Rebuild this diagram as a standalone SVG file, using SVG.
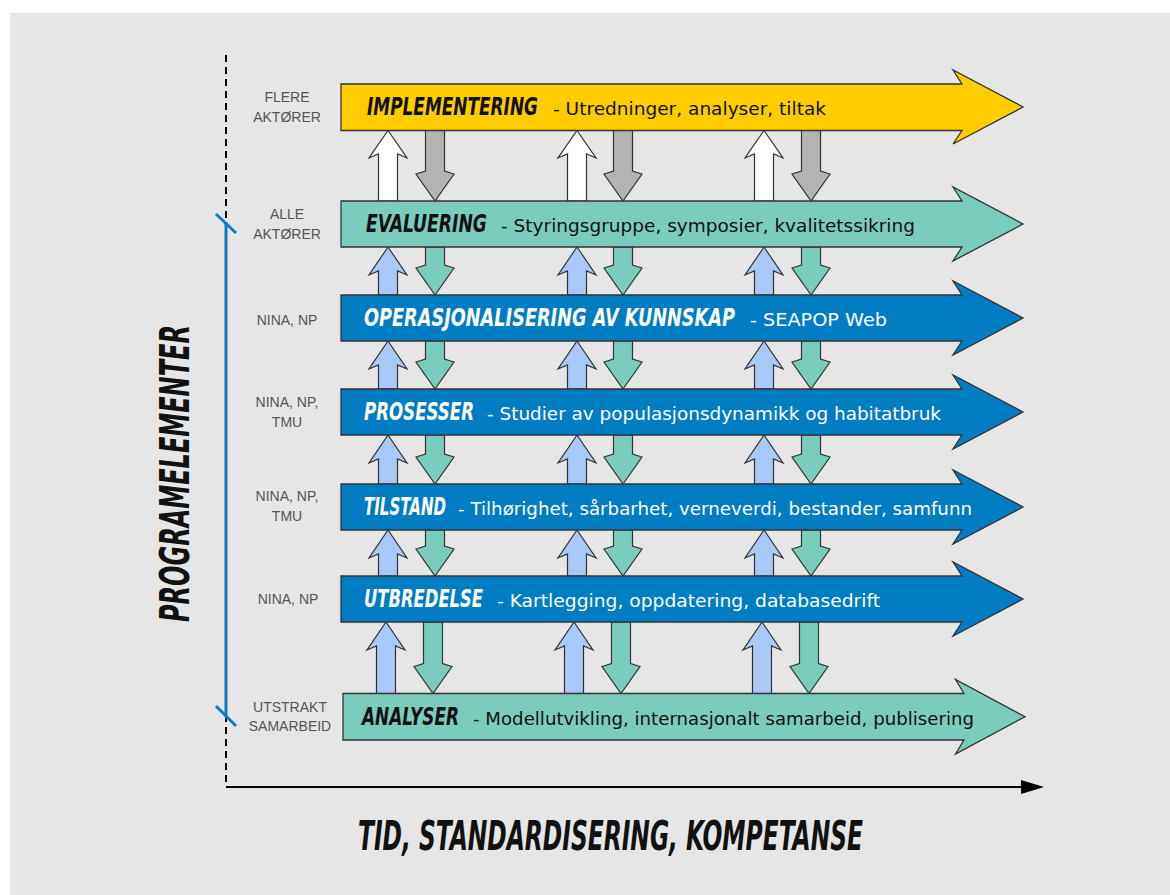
<svg xmlns="http://www.w3.org/2000/svg" width="1170" height="895" viewBox="0 0 1170 895">
<style>
.box{stroke:#333;stroke-width:1.3;stroke-linejoin:miter}
.yel{fill:#FFCC00}.tea{fill:#7ACDBC}.blu{fill:#007DC2}
.va{stroke:#333;stroke-width:1.2}
.up1{fill:#FFFFFF}.dn1{fill:#B3B3B3}.up{fill:#A9C8F5}.dn{fill:#7ACDBC}
.t{font-family:"DejaVu Sans Condensed","DejaVu Sans",sans-serif;font-weight:bold;font-style:italic;font-size:25px}
.d{font-family:"DejaVu Sans","Liberation Sans",sans-serif;font-size:18px}
.k{fill:#111}.w{fill:#FFFFFF}
.lab{font-family:"Liberation Sans",Arial,sans-serif;font-size:14px;fill:#555;text-anchor:middle}
.big{font-family:"DejaVu Sans Condensed","DejaVu Sans",sans-serif;font-weight:bold;font-style:italic;fill:#111}
</style>
<rect x="0" y="0" width="1170" height="895" fill="#FFFFFF"/>
<rect x="10" y="13" width="1160" height="882" fill="#E6E6E6"/>

<g id="axes">
<line x1="226" y1="55" x2="226" y2="787" stroke="#000" stroke-width="2" stroke-dasharray="7,5"/>
<line x1="226" y1="787" x2="1022" y2="787" stroke="#000" stroke-width="2"/>
<polygon points="1021,780 1044,787 1021,794" fill="#000"/>
<line x1="226" y1="222" x2="226" y2="717" stroke="#0A7CC4" stroke-width="3"/>
<line x1="216" y1="214" x2="236" y2="233" stroke="#0A7CC4" stroke-width="3"/>
<line x1="216" y1="706" x2="236" y2="726" stroke="#0A7CC4" stroke-width="3"/>
</g>

<g id="connectors">
<path class="va up1" d="M378.5,201 V154 L369,158 L388,130.5 L407,158 L397.5,154 V201 Z"/>
<path class="va dn1" d="M425.5,130.5 V171 L416,174 L435,201 L454,174 L444.5,171 V130.5 Z"/>
<path class="va up1" d="M567.5,201 V154 L558,158 L577,130.5 L596,158 L586.5,154 V201 Z"/>
<path class="va dn1" d="M613.5,130.5 V171 L604,174 L623,201 L642,174 L632.5,171 V130.5 Z"/>
<path class="va up1" d="M754.5,201 V154 L745,158 L764,130.5 L783,158 L773.5,154 V201 Z"/>
<path class="va dn1" d="M801.5,130.5 V171 L792,174 L811,201 L830,174 L820.5,171 V130.5 Z"/>
<path class="va up" d="M378.5,295 V271 L369,275 L388,247 L407,275 L397.5,271 V295 Z"/>
<path class="va dn" d="M425.5,247 V265 L416,268 L435,295 L454,268 L444.5,265 V247 Z"/>
<path class="va up" d="M567.5,295 V271 L558,275 L577,247 L596,275 L586.5,271 V295 Z"/>
<path class="va dn" d="M613.5,247 V265 L604,268 L623,295 L642,268 L632.5,265 V247 Z"/>
<path class="va up" d="M754.5,295 V271 L745,275 L764,247 L783,275 L773.5,271 V295 Z"/>
<path class="va dn" d="M801.5,247 V265 L792,268 L811,295 L830,268 L820.5,265 V247 Z"/>
<path class="va up" d="M378.5,389 V365 L369,369 L388,341 L407,369 L397.5,365 V389 Z"/>
<path class="va dn" d="M425.5,341 V359 L416,362 L435,389 L454,362 L444.5,359 V341 Z"/>
<path class="va up" d="M567.5,389 V365 L558,369 L577,341 L596,369 L586.5,365 V389 Z"/>
<path class="va dn" d="M613.5,341 V359 L604,362 L623,389 L642,362 L632.5,359 V341 Z"/>
<path class="va up" d="M754.5,389 V365 L745,369 L764,341 L783,369 L773.5,365 V389 Z"/>
<path class="va dn" d="M801.5,341 V359 L792,362 L811,389 L830,362 L820.5,359 V341 Z"/>
<path class="va up" d="M378.5,484 V459 L369,463 L388,435 L407,463 L397.5,459 V484 Z"/>
<path class="va dn" d="M425.5,435 V454 L416,457 L435,484 L454,457 L444.5,454 V435 Z"/>
<path class="va up" d="M567.5,484 V459 L558,463 L577,435 L596,463 L586.5,459 V484 Z"/>
<path class="va dn" d="M613.5,435 V454 L604,457 L623,484 L642,457 L632.5,454 V435 Z"/>
<path class="va up" d="M754.5,484 V459 L745,463 L764,435 L783,463 L773.5,459 V484 Z"/>
<path class="va dn" d="M801.5,435 V454 L792,457 L811,484 L830,457 L820.5,454 V435 Z"/>
<path class="va up" d="M378.5,576 V554 L369,558 L388,530 L407,558 L397.5,554 V576 Z"/>
<path class="va dn" d="M425.5,530 V546 L416,549 L435,576 L454,549 L444.5,546 V530 Z"/>
<path class="va up" d="M567.5,576 V554 L558,558 L577,530 L596,558 L586.5,554 V576 Z"/>
<path class="va dn" d="M613.5,530 V546 L604,549 L623,576 L642,549 L632.5,546 V530 Z"/>
<path class="va up" d="M754.5,576 V554 L745,558 L764,530 L783,558 L773.5,554 V576 Z"/>
<path class="va dn" d="M801.5,530 V546 L792,549 L811,576 L830,549 L820.5,546 V530 Z"/>
<path class="va up" d="M376.5,693.5 V646 L367,650 L386,622 L405,650 L395.5,646 V693.5 Z"/>
<path class="va dn" d="M423.5,622 V663.5 L414,666.5 L433,693.5 L452,666.5 L442.5,663.5 V622 Z"/>
<path class="va up" d="M564.5,693.5 V646 L555,650 L574,622 L593,650 L583.5,646 V693.5 Z"/>
<path class="va dn" d="M611.5,622 V663.5 L602,666.5 L621,693.5 L640,666.5 L630.5,663.5 V622 Z"/>
<path class="va up" d="M752.5,693.5 V646 L743,650 L762,622 L781,650 L771.5,646 V693.5 Z"/>
<path class="va dn" d="M799.5,622 V663.5 L790,666.5 L809,693.5 L828,666.5 L818.5,663.5 V622 Z"/>
</g>

<g id="implementering">
<path class="box yel" d="M341,84 H962 L953,70 L1023,107 L953,144 L962,130.5 H341 Z"/>
<text class="t k" transform="translate(367,115) scale(0.74,1)" x="0" y="0" textLength="231" lengthAdjust="spacingAndGlyphs">IMPLEMENTERING</text>
<text class="d k" x="553" y="115" textLength="273" lengthAdjust="spacingAndGlyphs">- Utredninger, analyser, tiltak</text>
<text class="lab" x="287" y="102">FLERE</text>
<text class="lab" x="287" y="121.5">AKTØRER</text>
</g>

<g id="evaluering">
<path class="box tea" d="M341,201 H962 L953,187 L1023,224 L953,261 L962,247 H341 Z"/>
<text class="t k" transform="translate(366,232) scale(0.74,1)" x="0" y="0" textLength="163.5" lengthAdjust="spacingAndGlyphs">EVALUERING</text>
<text class="d k" x="501" y="232" textLength="414" lengthAdjust="spacingAndGlyphs">- Styringsgruppe, symposier, kvalitetssikring</text>
<text class="lab" x="287" y="219">ALLE</text>
<text class="lab" x="287" y="238.5">AKTØRER</text>
</g>

<g id="operasjonalisering">
<path class="box blu" d="M341,295 H962 L953,281 L1023,318 L953,355 L962,341 H341 Z"/>
<text class="t w" transform="translate(364,326) scale(0.77,1)" x="0" y="0" textLength="481.8" lengthAdjust="spacingAndGlyphs">OPERASJONALISERING AV KUNNSKAP</text>
<text class="d w" x="750" y="326" textLength="137" lengthAdjust="spacingAndGlyphs">- SEAPOP Web</text>
<text class="lab" x="287" y="325">NINA, NP</text>
</g>

<g id="prosesser">
<path class="box blu" d="M341,389 H962 L953,375 L1023,412 L953,449 L962,435 H341 Z"/>
<text class="t w" transform="translate(364,420) scale(0.72,1)" x="0" y="0" textLength="152.8" lengthAdjust="spacingAndGlyphs">PROSESSER</text>
<text class="d w" x="487" y="420" textLength="454" lengthAdjust="spacingAndGlyphs">- Studier av populasjonsdynamikk og habitatbruk</text>
<text class="lab" x="287" y="407">NINA, NP,</text>
<text class="lab" x="287" y="426.5">TMU</text>
</g>

<g id="tilstand">
<path class="box blu" d="M341,484 H962 L953,470 L1023,507 L953,544 L962,530 H341 Z"/>
<text class="t w" transform="translate(364,515) scale(0.65,1)" x="0" y="0" textLength="126.2" lengthAdjust="spacingAndGlyphs">TILSTAND</text>
<text class="d w" x="458" y="515" textLength="514" lengthAdjust="spacingAndGlyphs">- Tilhørighet, sårbarhet, verneverdi, bestander, samfunn</text>
<text class="lab" x="287" y="501">NINA, NP,</text>
<text class="lab" x="287" y="521">TMU</text>
</g>

<g id="utbredelse">
<path class="box blu" d="M341,576 H962 L953,562 L1023,599 L953,636 L962,622 H341 Z"/>
<text class="t w" transform="translate(364,607) scale(0.72,1)" x="0" y="0" textLength="165.3" lengthAdjust="spacingAndGlyphs">UTBREDELSE</text>
<text class="d w" x="497" y="607" textLength="383" lengthAdjust="spacingAndGlyphs">- Kartlegging, oppdatering, databasedrift</text>
<text class="lab" x="288" y="604">NINA, NP</text>
</g>

<g id="analyser">
<path class="box tea" d="M343,693.5 H964 L955.5,679.5 L1025,716.75 L955.5,754 L964,740 H343 Z"/>
<text class="t k" transform="translate(362,725) scale(0.72,1)" x="0" y="0" textLength="134.7" lengthAdjust="spacingAndGlyphs">ANALYSER</text>
<text class="d k" x="473" y="725" textLength="501" lengthAdjust="spacingAndGlyphs">- Modellutvikling, internasjonalt samarbeid, publisering</text>
<text class="lab" x="290" y="711.5">UTSTRAKT</text>
<text class="lab" x="290" y="730.5">SAMARBEID</text>
</g>

<g id="titles">
<text class="big" font-size="40" x="0" y="0" transform="translate(189,622) rotate(-90)" textLength="297" lengthAdjust="spacingAndGlyphs">PROGRAMELEMENTER</text>
<text class="big" font-size="40" x="358" y="850" textLength="505" lengthAdjust="spacingAndGlyphs">TID, STANDARDISERING, KOMPETANSE</text>
</g>
</svg>
